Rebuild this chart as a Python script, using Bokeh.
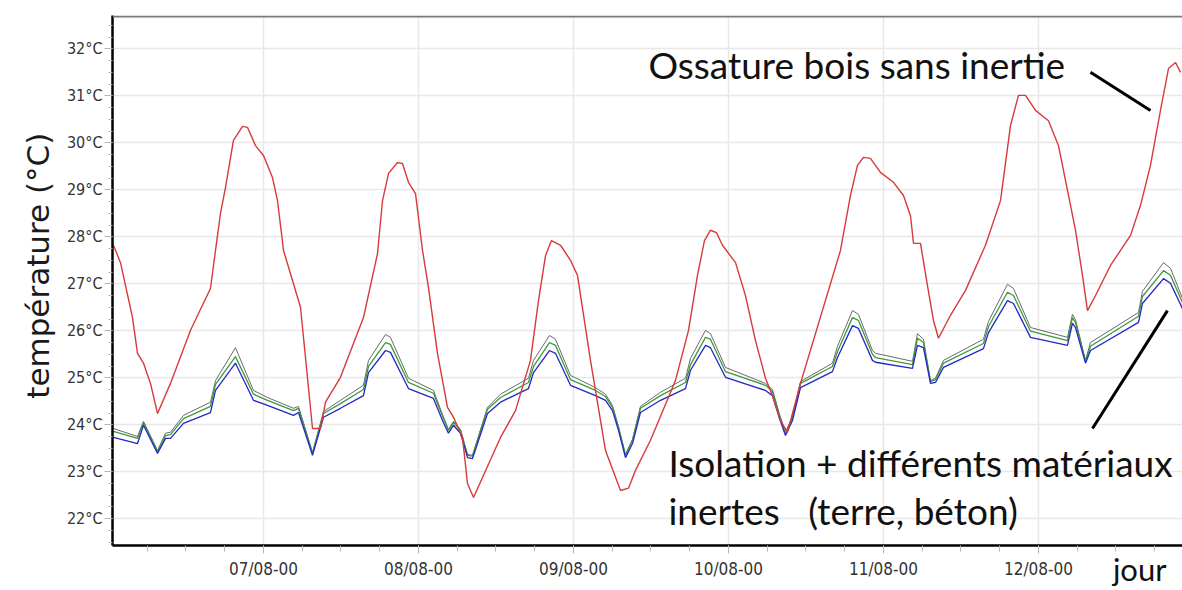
from bokeh.plotting import figure
from bokeh.models import FixedTicker, Label, Span, Range1d
from bokeh.embed import file_html
from bokeh.resources import INLINE

# ---- data (hours since 06/08 00:00, temperature in °C) ----
hours_red = [0.77, 1.86, 3.72, 4.49, 5.42, 6.50, 7.59, 9.60, 12.70, 15.79, 16.57, 17.34, 18.12, 19.35, 20.75,
             21.52, 22.76, 24.00, 25.39, 26.17, 27.10, 29.73, 31.59, 32.83, 33.60, 35.92, 39.48, 41.65, 42.43,
             43.36, 44.75, 45.52, 46.45, 47.54, 48.62, 49.55, 50.94, 52.49, 53.42, 54.81, 55.59, 56.52, 60.70,
             63.02, 65.34, 66.58, 67.67, 68.59, 69.99, 71.54, 72.62, 74.63, 76.96, 79.28, 80.52, 81.60, 83.92,
             87.79, 89.81, 91.20, 92.28, 93.21, 94.14, 95.07, 97.09, 98.63, 100.18, 101.73, 102.81, 104.05,
             105.13, 107.15, 113.34, 114.89, 115.97, 116.90, 117.98, 119.53, 121.55, 123.10, 124.18, 124.65,
             125.73, 126.81, 127.74, 128.52, 130.37, 132.70, 135.79, 138.12, 139.67, 140.90, 141.99, 143.54,
             145.55, 147.10, 148.65, 149.73, 150.81, 151.59, 152.83, 155.15, 158.25, 159.80, 161.34, 162.89,
             164.13, 165.22, 165.99]
temp_red = [27.82, 27.45, 26.28, 25.52, 25.31, 24.88, 24.24, 24.88, 26.01, 26.90, 27.71, 28.50, 29.05, 30.05,
            30.35, 30.33, 29.94, 29.73, 29.26, 28.77, 27.71, 26.50, 23.92, 23.92, 24.48, 25.01, 26.28, 27.64,
            28.77, 29.35, 29.58, 29.56, 29.16, 28.92, 27.71, 26.92, 25.52, 24.37, 24.16, 23.73, 22.75, 22.45,
            23.73, 24.30, 25.37, 26.64, 27.60, 27.92, 27.82, 27.50, 27.18, 25.37, 23.45, 22.60, 22.65, 23.03,
            23.67, 24.94, 26.01, 27.18, 27.92, 28.14, 28.09, 27.82, 27.45, 26.75, 25.79, 24.99, 24.62, 24.09,
            23.84, 24.88, 27.71, 28.88, 29.52, 29.69, 29.67, 29.37, 29.16, 28.88, 28.45, 27.86, 27.86, 26.96,
            26.22, 25.84, 26.33, 26.86, 27.82, 28.77, 30.37, 31.01, 31.01, 30.69, 30.47, 29.94, 28.88, 28.14,
            27.18, 26.43, 26.75, 27.39, 28.03, 28.67, 29.52, 30.69, 31.58, 31.71, 31.50]

hours_low = [0.77, 4.49, 5.42, 7.59, 8.83, 9.60, 11.61, 15.79, 16.57, 19.66, 22.45, 24.62, 28.65, 29.42, 31.59,
             33.29, 35.92, 39.48, 40.26, 42.89, 43.66, 46.45, 50.32, 51.72, 52.64, 53.42, 54.50, 55.59, 56.36,
             58.68, 60.70, 65.03, 65.81, 68.28, 69.21, 71.54, 75.41, 76.96, 78.04, 78.97, 80.05, 81.14, 82.37,
             85.47, 89.34, 90.12, 92.44, 93.21, 95.54, 101.73, 102.81, 103.90, 104.83, 105.91, 107.15, 112.10,
             112.88, 115.20, 116.13, 118.29, 118.76, 124.49, 125.26, 126.19, 127.28, 128.05, 129.29, 135.48,
             136.26, 139.20, 140.13, 142.76, 148.49, 149.26, 149.73, 151.28, 152.05, 159.49, 160.10, 163.36,
             164.44, 166.30]
temp_blue = [23.73, 23.60, 23.99, 23.39, 23.71, 23.71, 24.03, 24.26, 24.73, 25.31,
             24.52, 24.41, 24.20, 24.26, 23.35, 24.16, 24.35, 24.62, 25.11, 25.58,
             25.54, 24.77, 24.56, 24.09, 23.82, 23.99, 23.82, 23.30, 23.28, 24.24,
             24.48, 24.77, 25.11, 25.58, 25.52, 24.84, 24.62, 24.52, 24.30, 23.88,
             23.30, 23.60, 24.26, 24.52, 24.77, 25.16, 25.69, 25.64, 25.01, 24.73,
             24.62, 24.13, 23.77, 24.09, 24.79, 25.13, 25.43, 26.11, 26.05, 25.37,
             25.33, 25.20, 25.69, 25.64, 24.88, 24.90, 25.22, 25.62, 25.96, 26.64,
             26.58, 25.86, 25.69, 26.16, 26.07, 25.31, 25.58, 26.18, 26.58, 27.11,
             27.01, 26.47]
temp_green = [23.86, 23.71, 24.05, 23.43, 23.77, 23.79, 24.13, 24.39, 24.86, 25.45,
              24.65, 24.52, 24.30, 24.35, 23.39, 24.24, 24.45, 24.75, 25.24, 25.75,
              25.71, 24.90, 24.67, 24.18, 23.88, 24.05, 23.88, 23.35, 23.33, 24.33,
              24.58, 24.90, 25.24, 25.75, 25.69, 24.96, 24.73, 24.60, 24.37, 23.94,
              23.35, 23.67, 24.35, 24.62, 24.90, 25.28, 25.86, 25.82, 25.13, 24.84,
              24.71, 24.20, 23.82, 24.16, 24.88, 25.24, 25.56, 26.28, 26.22, 25.50,
              25.43, 25.28, 25.84, 25.75, 24.92, 24.96, 25.31, 25.73, 26.09, 26.82,
              26.75, 25.99, 25.79, 26.28, 26.18, 25.35, 25.67, 26.31, 26.73, 27.28,
              27.18, 26.60]
temp_gray = [23.92, 23.75, 24.07, 23.45, 23.82, 23.84, 24.20, 24.48, 24.94, 25.64,
             24.73, 24.58, 24.35, 24.39, 23.41, 24.28, 24.52, 24.84, 25.37, 25.92,
             25.86, 24.99, 24.73, 24.22, 23.90, 24.07, 23.90, 23.37, 23.35, 24.37,
             24.65, 24.99, 25.37, 25.90, 25.82, 25.05, 24.79, 24.65, 24.41, 23.96,
             23.37, 23.69, 24.39, 24.69, 24.99, 25.41, 26.01, 25.94, 25.22, 24.88,
             24.75, 24.22, 23.84, 24.18, 24.92, 25.31, 25.67, 26.43, 26.35, 25.58,
             25.52, 25.35, 25.94, 25.82, 24.94, 24.99, 25.37, 25.82, 26.20, 26.99,
             26.90, 26.07, 25.86, 26.35, 26.24, 25.37, 25.75, 26.39, 26.84, 27.45,
             27.33, 26.69]

day_ticks = [24, 48, 72, 96, 120, 144]
day_labels = ["07/08-00", "08/08-00", "09/08-00", "10/08-00", "11/08-00", "12/08-00"]
hour_minor_ticks = [0, 6, 12, 18, 24, 30, 36, 42, 48, 54, 60, 66, 72, 78, 84, 90, 96, 102, 108, 114,
                    120, 126, 132, 138, 144, 150, 156, 162, 168]
temp_ticks = [22, 23, 24, 25, 26, 27, 28, 29, 30, 31, 32]
temp_labels = ["22°C", "23°C", "24°C", "25°C", "26°C", "27°C", "28°C", "29°C", "30°C", "31°C", "32°C"]
temp_minor_ticks = [21.5 + 0.25 * i for i in range(46)]

# annotation texts and pointer lines (data units)
note_top = "Ossature bois sans inertie"
note_low1 = "Isolation + différents matériaux"
note_low2 = "inertes\u00a0\u00a0 (terre, béton)"
x_title = "jour"
pointer_x0 = [152.05, 152.36]
pointer_y0 = [31.50, 23.92]
pointer_x1 = [161.34, 163.97]
pointer_y1 = [30.69, 26.43]

X0, X1 = 0.62, 166.3
Y0, Y1 = 21.43, 32.71

p = figure(width=1182, height=590, x_range=Range1d(X0, X1), y_range=Range1d(Y0, Y1),
           output_backend="svg", toolbar_location=None,
           min_border_left=112, min_border_right=0, min_border_top=15, min_border_bottom=45)
p.outline_line_color = None
p.background_fill_color = "white"
p.border_fill_color = "white"

# grids
p.xgrid.grid_line_color = "#e8e8e8"
p.xgrid.grid_line_width = 1.5
p.ygrid.grid_line_color = "#e8e8e8"
p.ygrid.grid_line_width = 1.5

# x axis
p.xaxis.ticker = FixedTicker(ticks=day_ticks, minor_ticks=hour_minor_ticks)
p.xaxis.major_label_overrides = dict(zip(day_ticks, day_labels))
p.xaxis.axis_line_color = "black"
p.xaxis.axis_line_width = 2.5
p.xaxis.major_tick_line_color = "#b8b8b8"
p.xaxis.minor_tick_line_color = "#b8b8b8"
p.xaxis.major_tick_out = 8
p.xaxis.major_tick_in = 0
p.xaxis.minor_tick_out = 6
p.xaxis.minor_tick_in = 0
p.xaxis.major_label_standoff = 5
p.xaxis.major_label_text_font = "DejaVu Sans Condensed"
p.xaxis.major_label_text_font_size = "17px"
p.xaxis.major_label_text_color = "#333333"
# the axis title sits at the right end: pad it on the left so that it stays inside the canvas
p.xaxis.axis_label = "\u2003" * 42 + "\u00a0" + x_title
p.xaxis.axis_label_align = "center"
p.xaxis.axis_label_standoff = -32
p.xaxis.axis_label_text_font = "Lato"
p.xaxis.axis_label_text_font_size = "31px"
p.xaxis.axis_label_text_font_style = "normal"
p.xaxis.axis_label_text_color = "#111111"

# y axis
p.yaxis.ticker = FixedTicker(ticks=temp_ticks, minor_ticks=temp_minor_ticks)
p.yaxis.major_label_overrides = dict(zip(temp_ticks, temp_labels))
p.yaxis.axis_line_color = "black"
p.yaxis.axis_line_width = 2.5
p.yaxis.major_tick_line_color = "#b8b8b8"
p.yaxis.minor_tick_line_color = "#b8b8b8"
p.yaxis.major_tick_out = 8
p.yaxis.major_tick_in = 0
p.yaxis.minor_tick_out = 4
p.yaxis.minor_tick_in = 0
p.yaxis.major_label_standoff = 2
p.yaxis.major_label_text_font = "DejaVu Sans Condensed"
p.yaxis.major_label_text_font_size = "16px"
p.yaxis.major_label_text_color = "#333333"
p.yaxis.axis_label = "\u00a0\u00a0\u00a0température (°C)"
p.yaxis.axis_label_text_font = "DejaVu Sans"
p.yaxis.axis_label_text_font_size = "31px"
p.yaxis.axis_label_text_font_style = "normal"
p.yaxis.axis_label_text_color = "#1a1a1a"
p.yaxis.axis_label_standoff = 8

# top border
p.add_layout(Span(location=Y1 - 0.02, dimension="width", line_color="#7a7a7a", line_width=2))

# series
p.line(hours_low, temp_gray, line_color="#6a6a6a", line_width=1)
p.line(hours_low, temp_green, line_color="#3d9b3d", line_width=1.3)
p.line(hours_low, temp_blue, line_color="#2626c8", line_width=1.3)
p.line(hours_red, temp_red, line_color="#d83a3a", line_width=1.4)

# pointers
p.segment(x0=pointer_x0, y0=pointer_y0, x1=pointer_x1, y1=pointer_y1, line_color="black", line_width=3)

font = "Lato"
p.add_layout(Label(x=83.61, y=31.66, text=note_top, text_font=font, text_font_size="37px",
                   text_color="#111111", text_baseline="alphabetic"))
p.add_layout(Label(x=86.71, y=23.20, text=note_low1, text_font=font, text_font_size="37px",
                   text_color="#111111", text_baseline="alphabetic"))
p.add_layout(Label(x=86.71, y=22.18, text=note_low2, text_font=font, text_font_size="37px",
                   text_color="#111111", text_baseline="alphabetic"))

open("out.html", "w").write(file_html(p, INLINE))
